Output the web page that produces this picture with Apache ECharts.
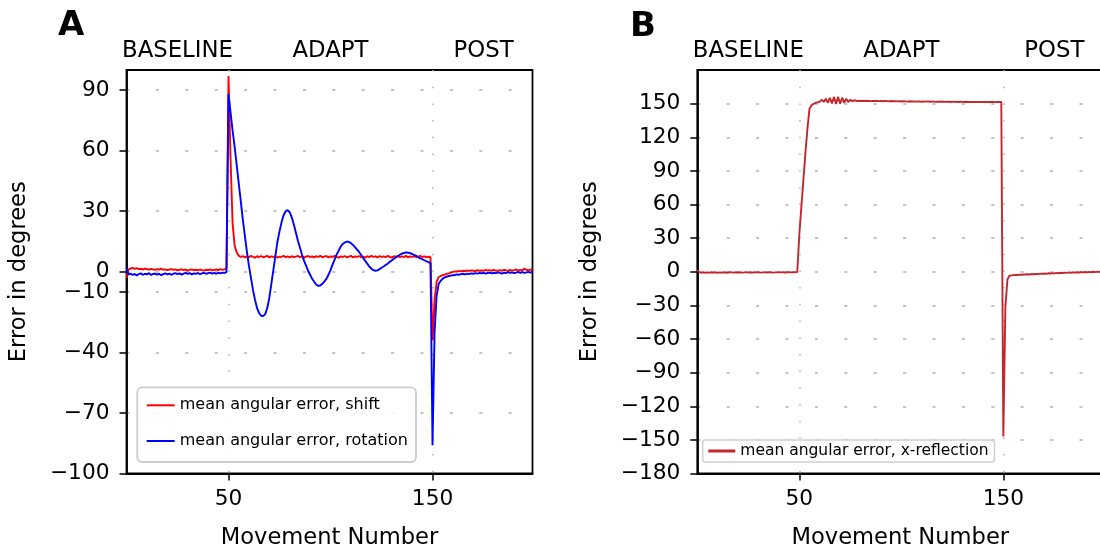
<!DOCTYPE html>
<html><head><meta charset="utf-8">
<script src="https://cdn.jsdelivr.net/npm/echarts@6/dist/echarts.min.js"></script>
<style>html,body{margin:0;padding:0;background:#fff}#c{width:1100px;height:548px}</style>
</head><body><div id="c"></div>
<script>
const phaseNames = ['BASELINE', 'ADAPT', 'POST'];
const phaseCenters = [25, 100, 175];
const xTicks = [50, 150];
const yTicksA = [-100, -70, -40, -10, 0, 30, 60, 90];
const yTicksB = [-180, -150, -120, -90, -60, -30, 0, 30, 60, 90, 120, 150];
const seriesNames = ['mean angular error, shift', 'mean angular error, rotation', 'mean angular error, x-reflection'];

const shiftErr = [-3.0,1.2,1.6,1.9,1.4,1.8,1.3,1.5,1.1,1.6,
1.3,1.0,1.4,1.2,0.9,1.3,1.1,1.5,1.0,1.2,
0.8,1.1,1.3,0.9,1.2,0.7,1.0,1.2,0.8,1.1,
0.6,0.9,1.2,0.8,1.0,0.7,1.1,0.8,0.6,1.0,
0.8,1.2,0.7,0.9,1.1,0.8,1.3,0.9,1.2,1.6,
97,56,24,13,9.5,8.0,7.3,7.8,7.1,7.6,
7.2,7.9,7.4,7.0,7.7,7.3,7.8,7.2,7.5,7.9,
7.1,7.6,7.3,7.8,7.0,7.5,7.4,7.9,7.2,7.6,
7.1,7.7,7.3,7.5,7.9,7.2,7.6,7.0,7.5,7.8,
7.3,7.6,7.1,7.7,7.4,7.9,7.2,7.5,7.8,7.1,
7.6,7.3,7.9,7.4,7.0,7.6,7.3,7.8,7.2,7.5,
7.9,7.1,7.6,7.4,7.8,7.2,7.5,7.0,7.7,7.3,
7.9,7.4,7.6,7.1,7.8,7.3,7.6,7.2,7.9,7.4,
7.0,7.7,7.5,7.8,7.2,7.6,7.3,7.9,7.1,7.6,
7.4,7.8,7.2,7.5,7.9,7.3,7.6,7.1,7.5,7.2,
-34,-14,-5,-2.6,-2.1,-1.7,-1.4,-1.0,-0.8,-0.4,
-0.1,0.2,0.1,0.4,0.2,0.5,0.3,0.6,0.4,0.7,
0.5,0.3,0.8,0.5,0.7,0.4,0.9,0.6,0.8,0.5,
0.9,0.6,0.4,0.8,0.5,1.0,0.7,0.5,0.9,0.6,
0.8,1.1,0.7,0.9,0.6,1.5,1.0,0.7,1.1,0.8];

const rotationErr = [2.0,-1.4,-0.9,-1.6,-1.1,-1.8,-1.2,-0.8,-1.5,-1.0,
-1.3,-0.7,-1.6,-1.1,-0.9,-1.4,-1.0,-1.7,-1.2,-0.8,
-1.3,-0.9,-1.5,-1.0,-0.7,-1.2,-0.8,-1.4,-0.9,-0.6,
-1.1,-0.7,-1.3,-0.8,-1.0,-0.6,-1.2,-0.8,-0.5,-1.0,
-0.7,-0.4,-0.9,-0.6,-1.0,-0.5,-0.8,-0.4,-0.6,-0.2,
88,79,70,62,53,44,35,26,18,10,
3,-3,-9,-14,-18,-20.5,-21.8,-22,-21,-18,
-13,-6,1,8,15,20,24.5,28,30,30.5,
29.5,27,23.5,19.5,15.5,12,8.5,5.5,3,0.5,
-1.5,-3.5,-5,-6.3,-7,-6.8,-6,-4.8,-3.5,-1.5,
0.8,3.5,6,8.5,10.5,12.5,13.8,14.5,15,14.8,
14.2,13.3,12.2,11,9.8,8.3,6.8,5.4,4,2.6,
1.5,0.8,0.5,0.7,1.3,2.0,2.6,3.3,4.0,4.9,
5.6,6.4,7.1,7.8,8.4,9.0,9.3,9.6,9.4,9.2,
8.8,8.3,7.9,7.2,6.6,6.2,5.7,5.2,4.8,4.3,
-86,-30,-12,-6,-4.5,-3.4,-2.8,-2.4,-2.1,-1.9,
-1.7,-1.6,-1.3,-1.5,-1.2,-1.0,-1.3,-0.9,-1.1,-0.8,
-1.0,-0.7,-0.9,-0.6,-0.8,-0.5,-0.9,-0.6,-0.4,-0.8,
-0.5,-0.7,-0.3,-0.6,-0.9,-0.4,-0.7,-0.2,-0.6,-0.3,
-0.7,-0.4,-0.1,-0.5,-0.2,-0.6,-0.3,-0.1,-0.4,0.0];

const reflectionErr = [1.3,-0.4,-0.7,-0.5,-0.9,-0.6,-0.8,-0.4,-0.7,-0.5,
-0.9,-0.6,-0.8,-0.5,-0.7,-0.9,-0.4,-0.6,-0.8,-0.5,
-0.7,-0.4,-0.8,-0.6,-0.3,-0.7,-0.5,-0.8,-0.4,-0.6,
-0.5,-0.8,-0.6,-0.3,-0.7,-0.5,-0.4,-0.8,-0.6,-0.5,
-0.3,-0.6,-0.4,-0.7,-0.5,-0.3,-0.6,-0.4,-0.5,-0.3,
33,58,82,106,128,145.5,148.5,149.8,150.6,151.2,
151.8,153.4,151.5,154.3,150.8,155.2,150.1,156.0,149.6,156.1,
149.9,155.3,150.7,154.4,151.4,153.6,152.0,153.0,152.4,152.6,
152.4,152.5,152.3,152.6,152.4,152.2,152.5,152.3,152.4,152.2,
152.4,152.1,152.3,152.2,152.0,152.3,152.1,152.2,152.0,152.2,
151.9,152.1,152.0,151.8,152.1,151.9,152.0,151.8,152.0,151.9,
151.7,151.9,151.8,152.0,151.7,151.9,151.8,151.6,151.8,151.7,
151.9,151.6,151.8,151.7,151.5,151.8,151.6,151.7,151.5,151.7,
151.6,151.4,151.7,151.5,151.6,151.4,151.6,151.5,151.3,151.6,
151.4,151.5,151.3,151.6,151.4,151.5,151.3,151.5,151.4,151.6,
-147,-32,-7,-3.6,-3.2,-3.0,-2.8,-2.9,-2.6,-2.7,
-2.4,-2.5,-2.2,-2.4,-2.0,-2.2,-1.9,-2.1,-1.7,-1.9,
-1.6,-1.8,-1.4,-1.6,-1.2,-1.5,-1.0,-1.3,-0.9,-1.1,
-0.8,-1.0,-0.6,-0.9,-0.5,-0.8,-0.4,-0.7,-0.3,-0.6,
-0.2,-0.5,-0.1,-0.4,0.0,-0.3,0.1,-0.2,0.2,-0.1];

const FONT = 'DejaVu Sans';
const fmtNum = v => (v < 0 ? '\u2212' + Math.abs(v) : String(v));
const toPairs = arr => arr.map((v, i) => [i, v]);
const xMax = shiftErr.length - 1;

function bottomX(grid) {
  return {
    type: 'value', gridIndex: grid, position: 'bottom', min: 0, max: xMax,
    name: 'Movement Number', nameLocation: 'middle', nameGap: 53,
    nameTextStyle: { fontFamily: FONT, fontSize: 22.6, color: '#000' },
    axisLine: { show: true, onZero: false, lineStyle: { color: '#000', width: 1.8 } },
    axisTick: { show: true, length: 7, customValues: xTicks, lineStyle: { color: '#000', width: 1.5 } },
    axisLabel: { customValues: xTicks, margin: 15, fontFamily: FONT, fontSize: 21.7, color: '#000', formatter: fmtNum },
    splitLine: { show: true, lineStyle: { color: '#b0b0b0', width: 1.5, type: [1.5, 15.2] } }
  };
}
function topX(grid) {
  return {
    type: 'value', gridIndex: grid, position: 'top', min: 0, max: xMax,
    axisLine: { show: false, onZero: false }, axisTick: { show: false }, splitLine: { show: false },
    axisLabel: { customValues: phaseCenters, margin: 7, fontFamily: FONT, fontSize: 22.8, color: '#000',
      formatter: v => phaseNames[phaseCenters.indexOf(v)] }
  };
}
function leftY(grid, min, max, ticks) {
  return {
    type: 'value', gridIndex: grid, min: min, max: max,
    name: 'Error in degrees', nameLocation: 'middle', nameGap: 96,
    nameTextStyle: { fontFamily: FONT, fontSize: 22.6, color: '#000' },
    axisLine: { show: true, onZero: false, lineStyle: { color: '#000', width: 1.8 } },
    axisTick: { show: true, length: 7, customValues: ticks, lineStyle: { color: '#000', width: 1.5 } },
    axisLabel: { customValues: ticks, margin: 17, fontFamily: FONT, fontSize: 21.7, color: '#000', formatter: fmtNum },
    splitLine: { show: true, lineStyle: { color: '#b0b0b0', width: 1.5, type: [3, 26.4] } }
  };
}

const chart = echarts.init(document.getElementById('c'), null, { renderer: 'canvas' });
chart.setOption({
  animation: false,
  backgroundColor: '#fff',
  title: [
    { text: 'A', left: 58, top: 9, padding: 0, textStyle: { fontFamily: FONT, fontWeight: 'bold', fontSize: 34, color: '#000' } },
    { text: 'B', left: 630, top: 10, padding: 0, textStyle: { fontFamily: FONT, fontWeight: 'bold', fontSize: 34, color: '#000' } }
  ],
  grid: [
    { left: 126.5, top: 70, width: 406, height: 403.5, show: true, borderColor: '#000', borderWidth: 1.8,
      backgroundColor: 'transparent', outerBoundsMode: 'none', containLabel: false },
    { left: 697.3, top: 70, width: 406, height: 403.5, show: true, borderColor: '#000', borderWidth: 1.8,
      backgroundColor: 'transparent', outerBoundsMode: 'none', containLabel: false }
  ],
  xAxis: [bottomX(0), topX(0), bottomX(1), topX(1)],
  yAxis: [leftY(0, -100, 100, yTicksA), leftY(1, -180, 180, yTicksB)],
  legend: [
    {
      data: [seriesNames[0], seriesNames[1]], orient: 'vertical', left: 137.3, top: 387.3,
      padding: [9, 8, 12, 9.4], itemGap: 17.7, itemWidth: 28, itemHeight: 2, icon: 'rect',
      backgroundColor: 'rgba(255,255,255,0.8)', borderColor: '#cccccc', borderWidth: 1.8, borderRadius: 5,
      textStyle: { fontFamily: FONT, fontSize: 16, color: '#000', lineHeight: 18 }
    },
    {
      data: [seriesNames[2]], orient: 'vertical', left: 702.7, top: 440,
      padding: [3, 6, 3, 5.6], itemWidth: 27, itemHeight: 3, icon: 'rect',
      backgroundColor: 'rgba(255,255,255,0.8)', borderColor: '#d0d0d0', borderWidth: 1.5, borderRadius: 3,
      textStyle: { fontFamily: FONT, fontSize: 15.5, color: '#000', lineHeight: 16 }
    }
  ],
  series: [
    { name: seriesNames[0], type: 'line', xAxisIndex: 0, yAxisIndex: 0, data: toPairs(shiftErr),
      showSymbol: false, color: '#ff0000', lineStyle: { color: '#ff0000', width: 1.9 }, z: 3 },
    { name: seriesNames[1], type: 'line', xAxisIndex: 0, yAxisIndex: 0, data: toPairs(rotationErr),
      showSymbol: false, color: '#0000ff', lineStyle: { color: '#0000ff', width: 1.9 }, z: 4 },
    { name: seriesNames[2], type: 'line', xAxisIndex: 2, yAxisIndex: 1, data: toPairs(reflectionErr),
      showSymbol: false, color: '#c1272d', lineStyle: { color: '#c1272d', width: 1.9 }, z: 3 }
  ]
});
</script></body></html>
